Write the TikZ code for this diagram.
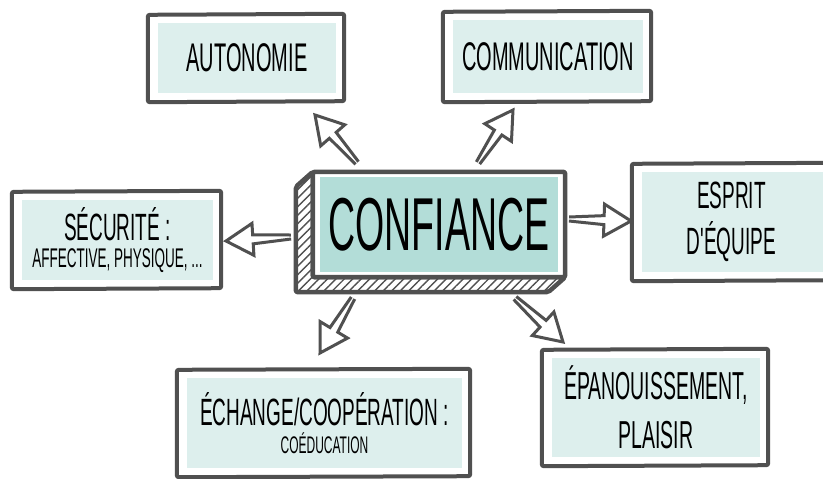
\documentclass[tikz,border=0pt]{standalone}
\usepackage{fontspec}
\newfontfamily\handfont[FakeStretch=0.5]{Liberation Sans}
\usetikzlibrary{calc,backgrounds,patterns.meta}
\definecolor{framegray}{HTML}{505050}
\definecolor{boxfill}{HTML}{DDEFED}
\definecolor{corefill}{HTML}{B3DDD8}
\newcommand\handsize[2]{\handfont\fontsize{#1}{#2}\selectfont}
\newcommand\sketchframe[1]{%
  \draw[frameline] ([shift={(-10,-8)}]#1.north west) -- ([shift={(8,-9)}]#1.north east)
    -- ([shift={(8,8)}]#1.south east) -- ([shift={(-10,9)}]#1.south west) -- cycle;}
\newcommand\hollowarrow[2]{%
  \coordinate (#1-neck) at ($(#2)!27pt!(#1)$);
  \draw[arrowline] ($(#1)!2pt!90:(#2)$) -- ($(#1-neck)!4.5pt!90:(#2)$) -- ($(#1-neck)!16pt!90:(#2)$) -- (#2)
    -- ($(#1-neck)!16pt!-90:(#2)$) -- ($(#1-neck)!4.5pt!-90:(#2)$) -- ($(#1)!2pt!-90:(#2)$);}
\tikzset{
  box/.style={fill=boxfill, inner sep=0pt, align=center},
  frameline/.style={draw=framegray, line width=4pt, line join=round, rounded corners=2pt},
  arrowline/.style={draw=framegray, line width=3pt, line join=miter},
}

\begin{document}
\begin{tikzpicture}[x=1pt,y=-1pt]
\useasboundingbox (0,0) rectangle (823,479);
\node[box, fill=corefill, minimum width=238pt, minimum height=95pt, font=\handsize{75}{80}] (confiance) at (439,224.5) {CONFIANCE};
\node[box, minimum width=178pt, minimum height=70pt, font=\handsize{40}{44}] (autonomie) at (247,58) {AUTONOMIE};
\node[box, minimum width=190pt, minimum height=73pt, font=\handsize{40}{44}] (communication) at (548,56.5) {COMMUNICATION};
\node[box, minimum width=191pt, minimum height=80pt, font=\handsize{27}{27}] (securite) at (117.5,240) {{\fontsize{38}{27}\selectfont SÉCURITÉ :}\\AFFECTIVE, PHYSIQUE, ...};
\node[box, minimum width=187pt, minimum height=100pt, font=\handsize{38}{46}] (esprit) at (735.5,222) {\hspace*{-8pt}ESPRIT\\\hspace*{-8pt}D'ÉQUIPE};
\node[box, minimum width=275pt, minimum height=90pt, font=\handsize{24}{28}] (echange) at (324.5,423) {{\fontsize{38}{28}\selectfont ÉCHANGE/COOPÉRATION :}\\COÉDUCATION};
\node[box, minimum width=208pt, minimum height=99pt, font=\handsize{39}{49}] (epanouissement) at (656,407.5) {ÉPANOUISSEMENT,\\PLAISIR};

\begin{scope}[on background layer]
\coordinate (cf-tl) at ([shift={(-7,-5)}]confiance.north west);
\coordinate (cf-br) at ([shift={(7,5)}]confiance.south east);
\coordinate (cf-bl) at ([shift={(-7,5)}]confiance.south west);
\draw[frameline, line width=4.5pt, pattern={Lines[angle=45,distance=6pt,line width=1.4pt]}, pattern color=framegray]
  (cf-tl) -- ++(-17,15) -- ([shift={(-17,15)}]cf-bl) -- ([shift={(-17,15)}]cf-br) -- (cf-br) -- (cf-bl) -- cycle;
\draw[frameline, line width=4.5pt, fill=white] (cf-tl) rectangle (cf-br);
\sketchframe{autonomie}
\sketchframe{communication}
\sketchframe{securite}
\sketchframe{esprit}
\sketchframe{echange}
\sketchframe{epanouissement}
\end{scope}

\coordinate (t-auto) at (357,163);
\coordinate (h-auto) at (315,115);
\coordinate (t-comm) at (478,163);
\coordinate (h-comm) at (513,110);
\coordinate (t-secu) at (291,237);
\coordinate (h-secu) at (226,241);
\coordinate (t-espr) at (569,219);
\coordinate (h-espr) at (631,221);
\coordinate (t-echa) at (353,298);
\coordinate (h-echa) at (320,353);
\coordinate (t-epan) at (515,298);
\coordinate (h-epan) at (563,342);
\hollowarrow{t-auto}{h-auto}
\hollowarrow{t-comm}{h-comm}
\hollowarrow{t-secu}{h-secu}
\hollowarrow{t-espr}{h-espr}
\hollowarrow{t-echa}{h-echa}
\hollowarrow{t-epan}{h-epan}
\end{tikzpicture}
\end{document}
